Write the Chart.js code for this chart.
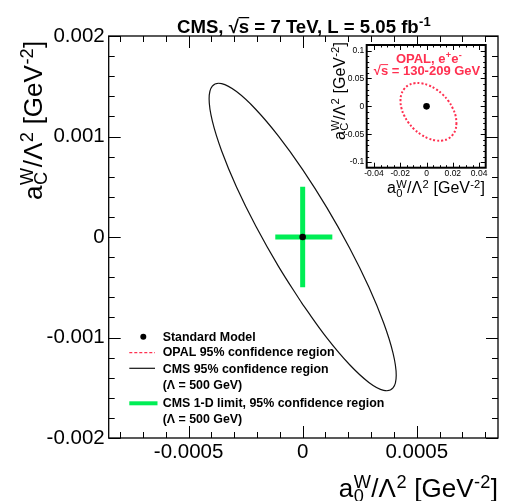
<!DOCTYPE html>
<html><head><meta charset="utf-8"><title>CMS anomalous quartic couplings</title>
<script src="https://cdn.jsdelivr.net/npm/chart.js@4.4.1/dist/chart.umd.min.js"></script>
<style>
html,body{margin:0;padding:0;background:#fff;overflow:hidden;}
#wrap{position:relative;width:517px;height:501px;}
#main{position:absolute;left:0;top:0;}
#inset{position:absolute;left:320px;top:30px;}
</style></head><body>
<div id="wrap"><canvas id="main" width="517" height="501"></canvas><canvas id="inset" width="180" height="175"></canvas></div>
<script>
// ---------------- data ----------------
const X_TICKS = [-0.0005, 0, 0.0005];
const X_TICK_LABELS = ['-0.0005', '0', '0.0005'];
const Y_TICKS = [-0.002, -0.001, 0, 0.001, 0.002];
const Y_TICK_LABELS = ['-0.002', '-0.001', '0', '0.001', '0.002'];
const X_MINOR_TICKS = [-0.0008, -0.0007, -0.0006, -0.0004, -0.0003, -0.0002, -0.0001, 0.0001, 0.0002, 0.0003, 0.0004, 0.0006, 0.0007, 0.0008];
const Y_MINOR_TICKS = [-0.0018, -0.0016, -0.0014, -0.0012, -0.0008, -0.0006, -0.0004, -0.0002, 0.0002, 0.0004, 0.0006, 0.0008, 0.0012, 0.0014, 0.0016, 0.0018];

const SM_A0 = [0];
const SM_AC = [0];

// CMS 95% CL contour (Lambda = 500 GeV)
const CMS_ELLIPSE_A0 = [0, -0.000106, -0.000205, -0.00029, -0.000355, -0.000396, -0.00041, -0.000396, -0.000355, -0.00029, -0.000205, -0.000106, 0, 0.000106, 0.000205, 0.00029, 0.000355, 0.000396, 0.00041, 0.000396, 0.000355, 0.00029, 0.000205, 0.000106, 0];
const CMS_ELLIPSE_AC = [-0.000671, -0.000292, 0.000107, 0.000498, 0.000856, 0.001155, 0.001375, 0.001502, 0.001526, 0.001447, 0.001269, 0.001004, 0.000671, 0.000292, -0.000107, -0.000498, -0.000856, -0.001155, -0.001375, -0.001502, -0.001526, -0.001447, -0.001269, -0.001004, -0.000671];

// CMS 1-D limits
const CMS_1D_A0_RANGE = [-0.00012, 0.00013];
const CMS_1D_AC_RANGE = [-0.0005, 0.0005];

// OPAL 95% CL contour (inset)
const OPAL_A0 = [0.0228, 0.0221, 0.0199, 0.0166, 0.0122, 0.0070, 0.0015, -0.0040, -0.0092, -0.0136, -0.0170, -0.0191, -0.0198, -0.0191, -0.0170, -0.0136, -0.0092, -0.0040, 0.0015, 0.0070, 0.0122, 0.0166, 0.0199, 0.0221, 0.0228];
const OPAL_AC = [-0.0298, -0.0415, -0.0510, -0.0577, -0.0612, -0.0611, -0.0576, -0.0508, -0.0413, -0.0296, -0.0165, -0.0030, 0.0100, 0.0217, 0.0312, 0.0379, 0.0414, 0.0413, 0.0378, 0.0310, 0.0215, 0.0098, -0.0033, -0.0168, -0.0298];

const INSET_X_TICKS = [-0.04, -0.02, 0, 0.02, 0.04];
const INSET_X_TICK_LABELS = ['-0.04', '-0.02', '0', '0.02', '0.04'];
const INSET_Y_TICKS = [-0.1, -0.05, 0, 0.05, 0.1];
const INSET_Y_TICK_LABELS = ['-0.1', '-0.05', '0', '0.05', '0.1'];
const INSET_X_MINOR_TICKS = [-0.035, -0.03, -0.025, -0.015, -0.01, -0.005, 0.005, 0.01, 0.015, 0.025, 0.03, 0.035];
const INSET_Y_MINOR_TICKS = [-0.09, -0.08, -0.07, -0.06, -0.04, -0.03, -0.02, -0.01, 0.01, 0.02, 0.03, 0.04, 0.06, 0.07, 0.08, 0.09];

const LEGEND_LABELS = ['Standard Model', 'OPAL 95% confidence region', 'CMS 95% confidence region', '(Λ = 500 GeV)', 'CMS 1-D limit, 95% confidence region', '(Λ = 500 GeV)'];

// ---------------- style ----------------
const FAM = "'Liberation Sans', Arial, Helvetica, sans-serif";
const GREEN = '#00ee55';
const RED = '#ff3050';
Chart.defaults.font.family = FAM;
Chart.defaults.color = '#000';

const pts = (xs, ys) => xs.map((v, i) => ({x: v, y: ys[i]}));

function drawRich(ctx, parts, x, y, size, weight, align, color) {
  const font = s => `${weight} ${s}px ${FAM}`;
  const ss = size * 0.7;
  const items = [];
  let w = 0;
  for (const p of parts) {
    if (p.t !== undefined) {
      ctx.font = font(size);
      const pw = ctx.measureText(p.t).width;
      items.push({p, x: w, w: pw}); w += pw;
    } else {
      ctx.font = font(ss);
      const a = p.sup ? ctx.measureText(p.sup).width : 0;
      const b = p.sub ? ctx.measureText(p.sub).width : 0;
      const pw = Math.max(a, b) + size * 0.04;
      items.push({p, x: w, w: pw}); w += pw;
    }
  }
  const x0 = align === 'center' ? x - w / 2 : (align === 'right' ? x - w : x);
  ctx.fillStyle = color; ctx.strokeStyle = color;
  ctx.textAlign = 'left'; ctx.textBaseline = 'alphabetic';
  for (const it of items) {
    const p = it.p;
    if (p.t !== undefined) {
      ctx.font = font(size);
      ctx.fillText(p.t, x0 + it.x, y);
      if (p.over) {
        ctx.lineWidth = Math.max(1, size * 0.07);
        ctx.beginPath();
        const oy = y - size * 0.80;
        ctx.moveTo(x0 + it.x - size * 0.02, oy);
        ctx.lineTo(x0 + it.x + it.w, oy);
        ctx.stroke();
      }
    } else {
      ctx.font = font(ss);
      if (p.sup) ctx.fillText(p.sup, x0 + it.x + size * 0.02, y - size * 0.36);
      if (p.sub) ctx.fillText(p.sub, x0 + it.x + size * 0.02, y + size * 0.2);
    }
  }
  return w;
}

function drawTicks(chart, xMajors, xMinors, yMajors, yMinors, lens, frameW) {
  const {ctx, chartArea: {left, right, top, bottom}, scales: {x, y}} = chart;
  ctx.save();
  ctx.strokeStyle = '#000';
  ctx.lineWidth = 1;
  ctx.beginPath();
  const xs = xMajors.map(v => [v, lens.xMaj]).concat(xMinors.map(v => [v, lens.xMin]));
  for (const [v, l] of xs) {
    const px = Math.round(x.getPixelForValue(v)) + 0.5;
    ctx.moveTo(px, bottom); ctx.lineTo(px, bottom - l);
    ctx.moveTo(px, top); ctx.lineTo(px, top + l);
  }
  const ys = yMajors.map(v => [v, lens.yMaj]).concat(yMinors.map(v => [v, lens.yMin]));
  for (const [v, l] of ys) {
    const py = Math.round(y.getPixelForValue(v)) + 0.5;
    ctx.moveTo(left, py); ctx.lineTo(left + l, py);
    ctx.moveTo(right, py); ctx.lineTo(right - l, py);
  }
  ctx.stroke();
  ctx.lineWidth = frameW;
  ctx.strokeRect(left, top, right - left, bottom - top);
  ctx.restore();
}

const AC_TITLE = [{t: 'a'}, {sup: 'W', sub: 'C'}, {t: '/Λ'}, {sup: '2'}, {t: ' [GeV'}, {sup: '-2'}, {t: ']'}];
const A0_TITLE = [{t: 'a'}, {sup: 'W', sub: '0'}, {t: '/Λ'}, {sup: '2'}, {t: ' [GeV'}, {sup: '-2'}, {t: ']'}];

const mainPlugin = {
  id: 'mainDecor',
  afterDatasetsDraw(chart) {
    drawTicks(chart, X_TICKS, X_MINOR_TICKS, Y_TICKS, Y_MINOR_TICKS,
      {xMaj: 12, xMin: 6, yMaj: 12, yMin: 6}, 1.3);
  },
  afterDraw(chart) {
    const ctx = chart.ctx;
    ctx.save();
    // title
    drawRich(ctx, [{t: 'CMS, √'}, {t: 's', over: true}, {t: ' = 7 TeV, L = 5.05 fb'}, {sup: '-1'}], 177, 32.5, 18.6, 'bold', 'left', '#000');
    // y title
    ctx.save();
    ctx.translate(42, 200);
    ctx.rotate(-Math.PI / 2);
    drawRich(ctx, AC_TITLE, 0, 0, 26, 'normal', 'left', '#000');
    ctx.restore();
    // x title
    drawRich(ctx, A0_TITLE, 498, 497, 26, 'normal', 'right', '#000');
    // legend
    const lx = 162.7;
    const base = [340.7, 355.7, 372.7, 389, 407, 423.3];
    ctx.font = `bold 12.4px ${FAM}`;
    ctx.fillStyle = '#000';
    ctx.textAlign = 'left'; ctx.textBaseline = 'alphabetic';
    LEGEND_LABELS.forEach((s, i) => ctx.fillText(s, lx, base[i]));
    // symbols
    ctx.beginPath(); ctx.arc(143.3, 336.7, 3, 0, Math.PI * 2); ctx.fillStyle = '#000'; ctx.fill();
    ctx.lineWidth = 1.2; ctx.strokeStyle = RED; ctx.setLineDash([3, 2]);
    ctx.beginPath(); ctx.moveTo(129.3, 352.7); ctx.lineTo(155, 352.7); ctx.stroke();
    ctx.setLineDash([]);
    ctx.strokeStyle = '#111'; ctx.lineWidth = 1.2;
    ctx.beginPath(); ctx.moveTo(129.3, 368.3); ctx.lineTo(155, 368.3); ctx.stroke();
    ctx.strokeStyle = GREEN; ctx.lineWidth = 4;
    ctx.beginPath(); ctx.moveTo(129.3, 403.3); ctx.lineTo(157.5, 403.3); ctx.stroke();
    ctx.restore();
  }
};

new Chart(document.getElementById('main'), {
  type: 'scatter',
  data: {datasets: [
    {label: 'Standard Model', data: pts(SM_A0, SM_AC), pointRadius: 3.3, pointBackgroundColor: '#000', pointBorderWidth: 0, showLine: false},
    {label: 'CMS 1-D limit a0', data: [{x: CMS_1D_A0_RANGE[0], y: 0}, {x: CMS_1D_A0_RANGE[1], y: 0}], showLine: true, borderColor: GREEN, borderWidth: 5, pointRadius: 0, borderCapStyle: 'butt'},
    {label: 'CMS 1-D limit aC', data: [{x: 0, y: CMS_1D_AC_RANGE[0]}, {x: 0, y: CMS_1D_AC_RANGE[1]}], showLine: true, borderColor: GREEN, borderWidth: 5, pointRadius: 0, borderCapStyle: 'butt'},
    {label: 'CMS 95% confidence region', data: pts(CMS_ELLIPSE_A0, CMS_ELLIPSE_AC), showLine: true, borderColor: '#111', borderWidth: 1.2, pointRadius: 0, tension: 0.4, fill: false}
  ]},
  options: {
    responsive: false, animation: false, devicePixelRatio: 1, events: [],
    layout: {padding: {top: 36, right: 19, left: 0, bottom: 0}},
    plugins: {legend: {display: false}, tooltip: {enabled: false}},
    scales: {
      x: {type: 'linear', min: -0.00085, max: 0.000856,
        grid: {display: false, drawTicks: false}, border: {display: false},
        afterBuildTicks: s => { s.ticks = X_TICKS.map(v => ({value: v})); },
        afterFit: s => { s.height = 63; },
        ticks: {font: {size: 20.5}, color: '#000', padding: 2.5, maxRotation: 0, autoSkip: false,
          callback: (v, i) => X_TICK_LABELS[i]}},
      y: {type: 'linear', min: -0.002, max: 0.002,
        grid: {display: false, drawTicks: false}, border: {display: false},
        afterBuildTicks: s => { s.ticks = Y_TICKS.map(v => ({value: v})); },
        afterFit: s => { s.width = 108.7; },
        ticks: {font: {size: 20.5}, color: '#000', padding: 4, autoSkip: false,
          callback: (v, i) => Y_TICK_LABELS[i]}}
    }
  },
  plugins: [mainPlugin]
});

const insetPlugin = {
  id: 'insetDecor',
  beforeDatasetsDraw(chart) {
    const {ctx, chartArea: {left, right, top, bottom}} = chart;
    ctx.save(); ctx.fillStyle = '#fff'; ctx.fillRect(left, top, right - left, bottom - top); ctx.restore();
  },
  afterDatasetsDraw(chart) {
    drawTicks(chart, INSET_X_TICKS, INSET_X_MINOR_TICKS, INSET_Y_TICKS, INSET_Y_MINOR_TICKS,
      {xMaj: 5, xMin: 2.5, yMaj: 5, yMin: 2.5}, 2);
  },
  afterDraw(chart) {
    const ctx = chart.ctx;
    ctx.save();
    drawRich(ctx, [{t: 'OPAL, e'}, {sup: '+'}, {t: 'e'}, {sup: '-'}], 109, 32.7, 13, 'bold', 'center', RED);
    drawRich(ctx, [{t: '√'}, {t: 's', over: true}, {t: ' = 130-209 GeV'}], 107, 45, 13, 'bold', 'center', RED);
    ctx.save();
    ctx.translate(25, 110);
    ctx.rotate(-Math.PI / 2);
    drawRich(ctx, AC_TITLE, 0, 0, 16, 'normal', 'left', '#000');
    ctx.restore();
    drawRich(ctx, A0_TITLE, 165, 163.3, 16, 'normal', 'right', '#000');
    ctx.restore();
  }
};

new Chart(document.getElementById('inset'), {
  type: 'scatter',
  data: {datasets: [
    {label: 'Standard Model', data: pts(SM_A0, SM_AC), pointRadius: 3.3, pointBackgroundColor: '#000', pointBorderWidth: 0, showLine: false},
    {label: 'OPAL 95% confidence region', data: pts(OPAL_A0, OPAL_AC), showLine: true, borderColor: RED, borderWidth: 2, borderDash: [2, 2], pointRadius: 0, tension: 0.4, fill: false}
  ]},
  options: {
    responsive: false, animation: false, devicePixelRatio: 1, events: [],
    layout: {padding: {top: 15, right: 14.3, left: 0, bottom: 0}},
    plugins: {legend: {display: false}, tooltip: {enabled: false}},
    scales: {
      x: {type: 'linear', min: -0.0455, max: 0.045,
        grid: {display: false, drawTicks: false}, border: {display: false},
        afterBuildTicks: s => { s.ticks = INSET_X_TICKS.map(v => ({value: v})); },
        afterFit: s => { s.height = 37.3; },
        ticks: {font: {size: 8.5}, color: '#000', padding: 1, maxRotation: 0, autoSkip: false,
          callback: (v, i) => INSET_X_TICK_LABELS[i]}},
      y: {type: 'linear', min: -0.11, max: 0.11,
        grid: {display: false, drawTicks: false}, border: {display: false},
        afterBuildTicks: s => { s.ticks = INSET_Y_TICKS.map(v => ({value: v})); },
        afterFit: s => { s.width = 46.7; },
        ticks: {font: {size: 8.5}, color: '#000', padding: 2.4, autoSkip: false,
          callback: (v, i) => INSET_Y_TICK_LABELS[i]}}
    }
  },
  plugins: [insetPlugin]
});
</script>
</body></html>
